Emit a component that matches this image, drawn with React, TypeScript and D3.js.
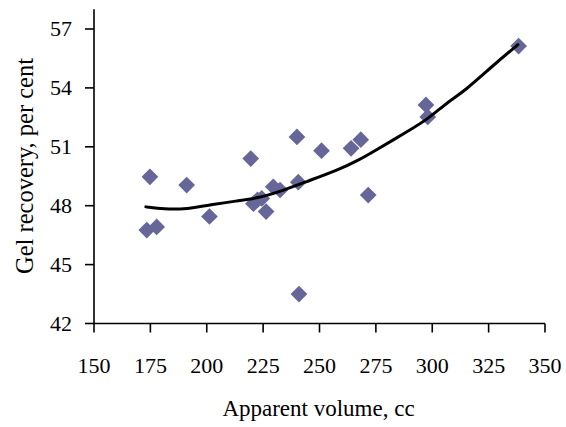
import React from 'react';
import * as d3 from 'd3';

// scatter data: apparent volume (cc) vs gel recovery (%)
const volume = [173.4, 177.8, 174.8, 191.1, 201.2, 219.5, 220.7, 222.5, 224.4, 226.3, 229.5, 232.5, 240.0, 240.6, 240.9, 250.9, 264.0, 268.3, 271.6, 297.2, 298.0, 338.3];
const recovery = [46.76, 46.92, 49.47, 49.05, 47.45, 50.4, 48.1, 48.3, 48.37, 47.7, 48.96, 48.8, 51.5, 49.2, 43.5, 50.8, 50.92, 51.36, 48.54, 53.13, 52.52, 56.13];

// trend line
const trendX = [173, 181, 191, 203, 213, 222, 232, 244, 258, 268, 274, 289, 298, 307, 314, 328, 338];
const trendY = [47.94, 47.82, 47.82, 48.07, 48.24, 48.37, 48.7, 49.22, 49.8, 50.36, 50.76, 51.78, 52.4, 53.3, 53.8, 55.25, 56.2];

const xTicks = [150, 175, 200, 225, 250, 275, 300, 325, 350];
const yTicks = [42, 45, 48, 51, 54, 57];

const W = 566;
const H = 427;
const font = '"Liberation Serif", "Times New Roman", serif';

export default function App() {
  const x = d3.scaleLinear().domain([150, 350]).range([94, 545]);
  const y = d3.scaleLinear().domain([42, 57]).range([323.5, 29]);

  const points = volume.map((v, i) => ({ v, r: recovery[i] }));
  const trend = trendX.map((v, i) => [v, trendY[i]] as [number, number]);

  const line = d3.line<[number, number]>()
    .x(d => x(d[0]))
    .y(d => y(d[1]))
    .curve(d3.curveBasis);

  const diamond = d3.symbol(d3.symbolSquare, 140)();

  return (
    <svg width={W} height={H} style={{ position: 'absolute', left: 0, top: 0, background: '#fff' }}>
      {/* axes */}
      <line x1={x(150)} x2={x(150)} y1={y(58)} y2={y(42)} stroke="#000" strokeWidth={1.6} />
      <line x1={x(150)} x2={x(350)} y1={y(42)} y2={y(42)} stroke="#000" strokeWidth={1.6} />
      {yTicks.map(t => (
        <g key={'y' + t}>
          <line x1={x(150) - 9} x2={x(150)} y1={y(t)} y2={y(t)} stroke="#000" strokeWidth={1.6} />
          <text x={72} y={y(t)} dy="0.33em" textAnchor="end" fontFamily={font} fontSize={22}>{t}</text>
        </g>
      ))}
      {xTicks.map(t => (
        <g key={'x' + t}>
          <line x1={x(t)} x2={x(t)} y1={y(42)} y2={y(42) + 9} stroke="#000" strokeWidth={1.6} />
          <text x={x(t)} y={373} textAnchor="middle" fontFamily={font} fontSize={22}>{t}</text>
        </g>
      ))}

      {/* markers */}
      {points.map((p, i) => (
        <path key={i} d={diamond!} transform={`translate(${x(p.v)},${y(p.r)}) rotate(45)`} fill="#666699" />
      ))}

      {/* trend */}
      <path d={line(trend)!} fill="none" stroke="#000" strokeWidth={3} strokeLinejoin="round" strokeLinecap="round" />

      {/* titles */}
      <text x={318.5} y={416} textAnchor="middle" fontFamily={font} fontSize={23}>Apparent volume, cc</text>
      <text transform={`translate(33,166) rotate(-90)`} textAnchor="middle" fontFamily={font} fontSize={24.5}>Gel recovery, per cent</text>
    </svg>
  );
}
